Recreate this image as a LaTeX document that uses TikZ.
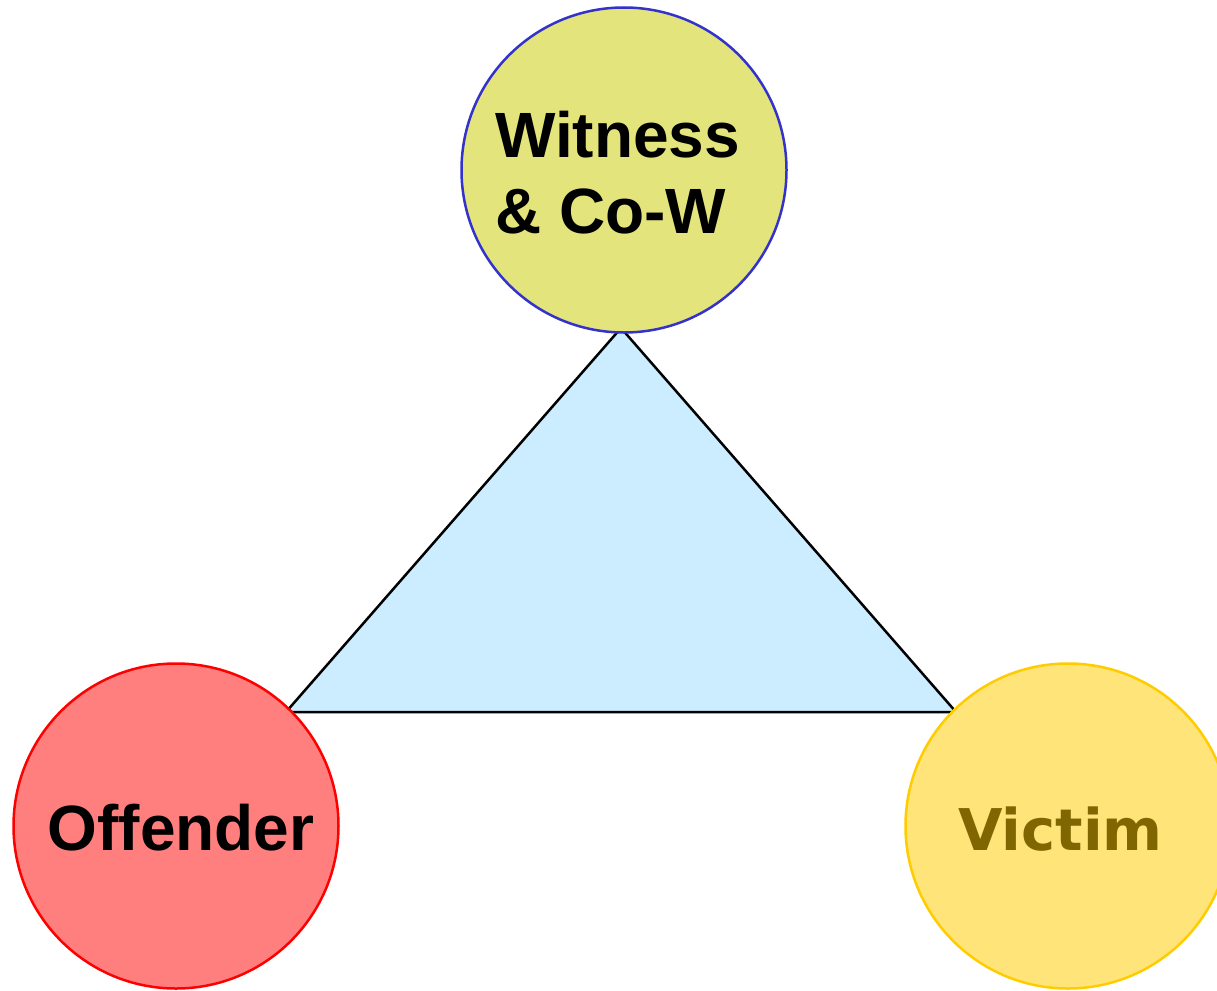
\documentclass[tikz,border=0pt]{standalone}
\usepackage{fontspec}
\setmainfont{Liberation Sans}
\newfontfamily\dejavu{DejaVu Sans}
\definecolor{witfill}{HTML}{E4E47C}
\definecolor{witline}{HTML}{3333CC}
\definecolor{offfill}{HTML}{FF7F7F}
\definecolor{offline}{HTML}{FF0000}
\definecolor{vicfill}{HTML}{FFE47A}
\definecolor{vicline}{HTML}{FFCC00}
\definecolor{victext}{HTML}{806600}
\definecolor{trifill}{HTML}{CCECFF}
\begin{document}
\begin{tikzpicture}[x=1pt,y=-1pt,
  party/.style={circle,minimum size=325pt,inner sep=0pt,line width=2.5pt},
  lbl/.style={font=\fontsize{64}{76}\selectfont\bfseries,inner sep=0pt}]
\useasboundingbox (0,0) rectangle (1217,990);
\coordinate (apex) at (621,328);
\coordinate (bl) at (286,712);
\coordinate (br) at (956,712);
\draw[line width=2.5pt,fill=trifill,line join=miter] (apex) -- (br) -- (bl) -- cycle;
\node[party,draw=witline,fill=witfill] (wit) at (624,170) {};
\node[party,draw=offline,fill=offfill] (off) at (176,826) {};
\node[party,draw=vicline,fill=vicfill] (vic) at (1068,826) {};
\node[lbl,anchor=base west,align=left] (wtxt) at (495,233) {Witness\\\& Co-W};
\node[lbl,anchor=base] (otxt) at (181,850) {Offender};
\node[inner sep=0pt,anchor=base west,text=victext,font=\fontsize{57.5}{66}\selectfont\dejavu\bfseries] (vtxt) at (958,850) {Victim};
\end{tikzpicture}
\end{document}
